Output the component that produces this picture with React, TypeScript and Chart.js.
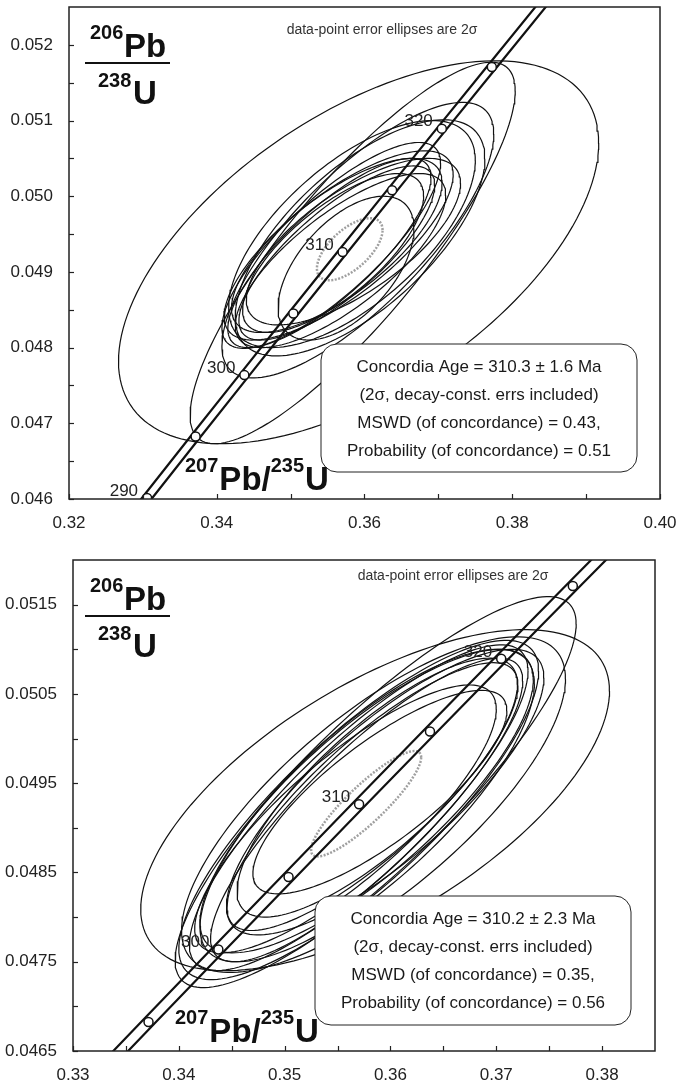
import React, { useEffect, useRef } from "react";
import { Chart, registerables } from "chart.js";
Chart.register(...registerables);

const FONT = '"Liberation Sans", Arial, sans-serif';

// ---- Concordia curve (age in Ma, 207Pb/235U, 206Pb/238U) ----
const concAges = [280, 285, 290, 295, 300, 305, 310, 315, 320, 325, 330, 335];
const concX = [0.317529, 0.324033, 0.330569, 0.337137, 0.343738, 0.350371, 0.357037, 0.363736, 0.370467, 0.377233, 0.384032, 0.390864];
const concY = [0.044392, 0.045202, 0.046013, 0.046825, 0.047637, 0.04845, 0.049264, 0.050078, 0.050893, 0.051708, 0.052524, 0.053341];
// decay-constant error band edges (207Pb/235U at same 206Pb/238U)
const bandLowX = [0.316829, 0.323333, 0.329869, 0.336437, 0.343038, 0.349671, 0.356337, 0.363036, 0.369767, 0.376533, 0.383332, 0.390164];
const bandHighX = [0.318229, 0.324733, 0.331269, 0.337837, 0.344438, 0.351071, 0.357737, 0.364436, 0.371167, 0.377933, 0.384732, 0.391564];
const markerAges = [290, 295, 300, 305, 310, 315, 320, 325];

// ---- Top panel data ----
const topAgeLabels = [290, 300, 310, 320];
const topEllX = [0.3592, 0.3584, 0.3591, 0.3594, 0.3583, 0.3555, 0.3565, 0.35625, 0.35625, 0.35525, 0.3585, 0.35675, 0.35575, 0.3575];
const topEllErrX = [0.0325, 0.022, 0.0184, 0.0169, 0.0167, 0.0148, 0.0155, 0.01425, 0.01325, 0.01375, 0.0145, 0.01425, 0.01225, 0.0092];
const topEllY = [0.04926, 0.04925, 0.04942, 0.04945, 0.0495, 0.04935, 0.04935, 0.04935, 0.04925, 0.04925, 0.0494, 0.04915, 0.04925, 0.04905];
const topEllErrY = [0.00253, 0.00252, 0.00182, 0.00156, 0.0015, 0.00136, 0.00125, 0.00115, 0.00115, 0.00125, 0.0011, 0.00115, 0.00105, 0.00095];
const topEllRho = [0.57, 0.85, 0.77, 0.67, 0.65, 0.8, 0.75, 0.72, 0.78, 0.8, 0.7, 0.75, 0.72, 0.55];
const topMean = [0.358, 0.00444, 0.0493, 0.00041, 0.62];
const topXTicks = [0.32, 0.33, 0.34, 0.35, 0.36, 0.37, 0.38, 0.39, 0.4];
const topXLabels = ["0.32", "0.34", "0.36", "0.38", "0.40"];
const topYTicks = [0.046, 0.0465, 0.047, 0.0475, 0.048, 0.0485, 0.049, 0.0495, 0.05, 0.0505, 0.051, 0.0515, 0.052];
const topYLabels = ["0.046", "0.047", "0.048", "0.049", "0.050", "0.051", "0.052"];
const topBoxLines = [
  "Concordia Age = 310.3 \u00b1 1.6 Ma",
  "(2\u03c3, decay-const. errs included)",
  "MSWD (of concordance) = 0.43,",
  "Probability (of concordance) = 0.51",
];

// ---- Bottom panel data ----
const botAgeLabels = [300, 310, 320];
const botEllX = [0.3586, 0.35855, 0.3584, 0.357, 0.357, 0.35775, 0.35775, 0.3595, 0.35575, 0.35875, 0.359, 0.3583, 0.3578];
const botEllErrX = [0.01895, 0.02215, 0.01814, 0.017, 0.016, 0.01575, 0.01475, 0.015, 0.01425, 0.01325, 0.012, 0.01375, 0.0158];
const botEllY = [0.0494, 0.04931, 0.04926, 0.0492, 0.049225, 0.0493, 0.0492, 0.0494, 0.0491, 0.04945, 0.0494, 0.04935, 0.04925];
const botEllErrY = [0.00219, 0.00191, 0.00188, 0.0019, 0.001825, 0.0017, 0.0017, 0.0016, 0.0015, 0.00145, 0.00114, 0.0015, 0.00175];
const botEllRho = [0.86, 0.64, 0.75, 0.82, 0.84, 0.8, 0.85, 0.8, 0.82, 0.8, 0.8, 0.83, 0.78];
const botMean = [0.3577, 0.0052, 0.04927, 0.00059, 0.88];
const botXTicks = [0.33, 0.335, 0.34, 0.345, 0.35, 0.355, 0.36, 0.365, 0.37, 0.375, 0.38];
const botXLabels = ["0.33", "0.34", "0.35", "0.36", "0.37", "0.38"];
const botYTicks = [0.0465, 0.047, 0.0475, 0.048, 0.0485, 0.049, 0.0495, 0.05, 0.0505, 0.051, 0.0515];
const botYLabels = ["0.0465", "0.0475", "0.0485", "0.0495", "0.0505", "0.0515"];
const botBoxLines = [
  "Concordia Age = 310.2 \u00b1 2.3 Ma",
  "(2\u03c3, decay-const. errs included)",
  "MSWD (of concordance) = 0.35,",
  "Probability (of concordance) = 0.56",
];

const noteText = "data-point error ellipses are 2\u03c3";

type Panel = {
  height: number;
  xMin: number; xMax: number; yMin: number; yMax: number;
  xTicks: number[]; xLabels: string[]; yTicks: number[]; yLabels: string[];
  area: { left: number; right: number; top: number; bottom: number };
  ex: number[]; eex: number[]; ey: number[]; eey: number[]; er: number[];
  mean: number[];
  ageLabels: number[];
  boxLines: string[];
  box: { x1: number; y1: number; x2: number; y2: number };
  note: { x: number; y: number };
  xTitle: { x: number; y: number };
};

const topPanel: Panel = {
  height: 540,
  xMin: 0.32, xMax: 0.4, yMin: 0.046, yMax: 0.0525,
  xTicks: topXTicks, xLabels: topXLabels, yTicks: topYTicks, yLabels: topYLabels,
  area: { left: 69, right: 660, top: 7, bottom: 499 },
  ex: topEllX, eex: topEllErrX, ey: topEllY, eey: topEllErrY, er: topEllRho,
  mean: topMean,
  ageLabels: topAgeLabels,
  boxLines: topBoxLines,
  box: { x1: 321, y1: 344, x2: 637, y2: 472 },
  note: { x: 382, y: 30.5 },
  xTitle: { x: 185, y: 490 },
};

const botPanel: Panel = {
  height: 547,
  xMin: 0.33, xMax: 0.385, yMin: 0.0465, yMax: 0.052,
  xTicks: botXTicks, xLabels: botXLabels, yTicks: botYTicks, yLabels: botYLabels,
  area: { left: 73, right: 655, top: 20, bottom: 511 },
  ex: botEllX, eex: botEllErrX, ey: botEllY, eey: botEllErrY, er: botEllRho,
  mean: botMean,
  ageLabels: botAgeLabels,
  boxLines: botBoxLines,
  box: { x1: 315, y1: 356, x2: 631, y2: 485 },
  note: { x: 453, y: 36.5 },
  xTitle: { x: 175, y: 502 },
};

function ellipsePoints(cx: number, ex: number, cy: number, ey: number, rho: number) {
  const n = 160;
  const s = Math.sqrt(1 - rho * rho);
  const pts: { x: number; y: number }[] = [];
  for (let i = 0; i <= n; i++) {
    const t = (i / n) * Math.PI * 2;
    pts.push({ x: cx + ex * Math.cos(t), y: cy + ey * (rho * Math.cos(t) + s * Math.sin(t)) });
  }
  return pts;
}

function findLabel(labels: string[], v: number) {
  const l = labels.find((s) => Math.abs(Number(s) - v) < 1e-9);
  return l === undefined ? "" : l;
}

function roundRectPath(ctx: CanvasRenderingContext2D, x1: number, y1: number, x2: number, y2: number, r: number) {
  ctx.beginPath();
  ctx.moveTo(x1 + r, y1);
  ctx.lineTo(x2 - r, y1);
  ctx.arcTo(x2, y1, x2, y1 + r, r);
  ctx.lineTo(x2, y2 - r);
  ctx.arcTo(x2, y2, x2 - r, y2, r);
  ctx.lineTo(x1 + r, y2);
  ctx.arcTo(x1, y2, x1, y2 - r, r);
  ctx.lineTo(x1, y1 + r);
  ctx.arcTo(x1, y1, x1 + r, y1, r);
  ctx.closePath();
}

function makeConfig(p: Panel): any {
  const datasets: any[] = [];
  datasets.push({
    data: markerAges.map((a) => {
      const i = concAges.indexOf(a);
      return { x: concX[i], y: concY[i] };
    }),
    pointRadius: 4.5,
    pointBackgroundColor: "#ffffff",
    pointBorderColor: "#111111",
    pointBorderWidth: 1.5,
    showLine: false,
    order: 0,
  });
  [bandLowX, bandHighX].forEach((bx) => {
    datasets.push({
      data: bx.map((x, i) => ({ x, y: concY[i] })),
      showLine: true,
      pointRadius: 0,
      borderColor: "#111111",
      borderWidth: 2.2,
      order: 1,
    });
  });
  datasets.push({
    data: ellipsePoints(p.mean[0], p.mean[1], p.mean[2], p.mean[3], p.mean[4]),
    showLine: true,
    pointRadius: 0,
    borderColor: "#a0a0a0",
    borderWidth: 2.5,
    borderDash: [2, 1.5],
    order: 2,
  });
  p.ex.forEach((cx, i) => {
    datasets.push({
      data: ellipsePoints(cx, p.eex[i], p.ey[i], p.eey[i], p.er[i]),
      showLine: true,
      pointRadius: 0,
      borderColor: "#111111",
      borderWidth: 1.2,
      order: 3,
    });
  });

  const overlay = {
    id: "overlay",
    afterDatasetsDraw(chart: any) {
      const ctx: CanvasRenderingContext2D = chart.ctx;
      const { left, right, top, bottom } = chart.chartArea;
      const xs = chart.scales.x;
      const ys = chart.scales.y;
      ctx.save();

      // age labels on concordia
      ctx.font = `17px ${FONT}`;
      ctx.fillStyle = "#222";
      ctx.textAlign = "right";
      ctx.textBaseline = "middle";
      p.ageLabels.forEach((age) => {
        const i = concAges.indexOf(age);
        const px = xs.getPixelForValue(concX[i]);
        const py = ys.getPixelForValue(concY[i]);
        ctx.fillText(String(age), px - 9, py - 7);
      });

      // result box
      const b = p.box;
      roundRectPath(ctx, b.x1, b.y1, b.x2, b.y2, 16);
      ctx.fillStyle = "#ffffff";
      ctx.fill();
      ctx.strokeStyle = "#222";
      ctx.lineWidth = 1;
      ctx.stroke();
      ctx.fillStyle = "#1a1a1a";
      ctx.textAlign = "center";
      ctx.textBaseline = "middle";
      ctx.font = `17px ${FONT}`;
      p.boxLines.forEach((line, i) => {
        ctx.fillText(line, (b.x1 + b.x2) / 2, b.y1 + 23 + i * 28);
      });

      // note
      ctx.font = `14px ${FONT}`;
      ctx.fillStyle = "#333";
      ctx.fillText(noteText, p.note.x, p.note.y);

      // y title (fraction)
      ctx.textAlign = "left";
      ctx.textBaseline = "alphabetic";
      ctx.fillStyle = "#111";
      ctx.font = `bold 20px ${FONT}`;
      ctx.fillText("206", 90, top + 32);
      ctx.fillText("238", 98, top + 80);
      ctx.font = `bold 33px ${FONT}`;
      ctx.fillText("Pb", 124, top + 50);
      ctx.fillText("U", 133, top + 97);
      ctx.fillRect(85, top + 55, 85, 2);

      // x title
      let x = p.xTitle.x;
      const by = p.xTitle.y;
      ctx.font = `bold 20px ${FONT}`;
      ctx.fillText("207", x, by - 18);
      x += ctx.measureText("207").width + 1;
      ctx.font = `bold 33px ${FONT}`;
      ctx.fillText("Pb/", x, by);
      x += ctx.measureText("Pb/").width;
      ctx.font = `bold 20px ${FONT}`;
      ctx.fillText("235", x, by - 18);
      x += ctx.measureText("235").width + 1;
      ctx.font = `bold 33px ${FONT}`;
      ctx.fillText("U", x, by);

      // frame and inward ticks
      ctx.strokeStyle = "#222";
      ctx.lineWidth = 1.5;
      ctx.strokeRect(left, top, right - left, bottom - top);
      ctx.lineWidth = 1.2;
      xs.ticks.forEach((t: any) => {
        const tx = Math.round(xs.getPixelForValue(t.value)) + 0.5;
        ctx.beginPath();
        ctx.moveTo(tx, bottom);
        ctx.lineTo(tx, bottom - 5);
        ctx.stroke();
      });
      ys.ticks.forEach((t: any) => {
        const ty = Math.round(ys.getPixelForValue(t.value)) + 0.5;
        ctx.beginPath();
        ctx.moveTo(left, ty);
        ctx.lineTo(left + 5, ty);
        ctx.stroke();
      });
      ctx.restore();
    },
  };

  return {
    type: "scatter",
    data: { datasets },
    options: {
      responsive: false,
      maintainAspectRatio: false,
      animation: false,
      devicePixelRatio: 1,
      events: [],
      layout: {
        padding: { left: 0, top: p.area.top, right: 677 - p.area.right, bottom: 0 },
      },
      plugins: { legend: { display: false }, tooltip: { enabled: false } },
      scales: {
        x: {
          type: "linear",
          min: p.xMin,
          max: p.xMax,
          grid: { display: false, drawTicks: false },
          border: { display: false },
          afterBuildTicks: (s: any) => {
            s.ticks = p.xTicks.map((v) => ({ value: v }));
          },
          afterFit: (s: any) => {
            s.height = p.height - p.area.bottom;
            s.paddingLeft = 0;
            s.paddingRight = 0;
          },
          ticks: {
            autoSkip: false,
            maxRotation: 0,
            padding: 14,
            color: "#222",
            font: { size: 17, family: FONT },
            callback: (v: number) => findLabel(p.xLabels, v),
          },
        },
        y: {
          type: "linear",
          min: p.yMin,
          max: p.yMax,
          grid: { display: false, drawTicks: false },
          border: { display: false },
          afterBuildTicks: (s: any) => {
            s.ticks = p.yTicks.map((v) => ({ value: v }));
          },
          afterFit: (s: any) => {
            s.width = p.area.left;
            s.paddingTop = 0;
            s.paddingBottom = 0;
          },
          ticks: {
            autoSkip: false,
            padding: 16,
            color: "#222",
            font: { size: 17, family: FONT },
            callback: (v: number) => findLabel(p.yLabels, v),
          },
        },
      },
    },
    plugins: [overlay],
  };
}

function PanelChart({ panel, top }: { panel: Panel; top: number }) {
  const ref = useRef<HTMLCanvasElement>(null);
  useEffect(() => {
    const chart = new Chart(ref.current as HTMLCanvasElement, makeConfig(panel));
    return () => chart.destroy();
  }, [panel]);
  return (
    <canvas
      ref={ref}
      width={677}
      height={panel.height}
      style={{ position: "absolute", left: 0, top, width: 677, height: panel.height, display: "block" }}
    />
  );
}

export default function App() {
  return (
    <div style={{ position: "absolute", left: 0, top: 0, width: 677, height: 1087, background: "#ffffff" }}>
      <PanelChart panel={topPanel} top={0} />
      <PanelChart panel={botPanel} top={540} />
    </div>
  );
}
